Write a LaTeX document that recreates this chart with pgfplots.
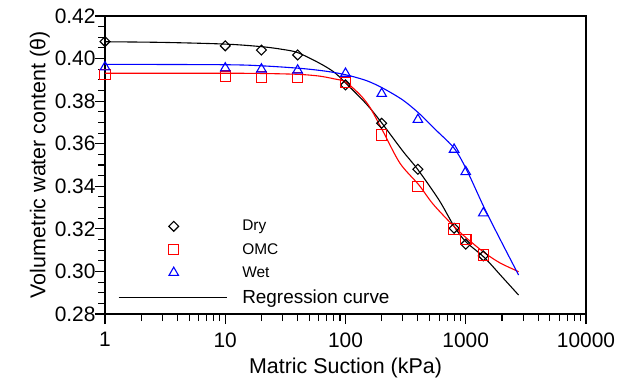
\documentclass[border=0pt]{standalone}
\usepackage{fontspec}
\setmainfont{Liberation Sans}
\usepackage{pgfplots}
\pgfplotsset{compat=1.18}
\definecolor{myblue}{RGB}{0,0,255}
\definecolor{myred}{RGB}{255,0,0}
\pgfplotsset{
  mylegmark/.style={legend image code/.code={\draw[mark repeat=2,mark phase=2,##1] plot coordinates {(0bp,0bp) (55bp,0bp) (110bp,0bp)};}},
  mylegline/.style={legend image code/.code={\draw[##1] (0bp,0bp) -- (108bp,0bp);}},
}
\begin{document}
\begin{tikzpicture}
\begin{axis}[
  scale only axis, width=481bp, height=298bp,
  xmode=log, xmin=1, xmax=10000,
  ymin=0.28, ymax=0.42,
  xtick={1,10,100,1000,10000}, xticklabels={1,10,100,1000,10000},
  ytick={0.28,0.30,0.32,0.34,0.36,0.38,0.40,0.42},
  yticklabels={0.28,0.30,0.32,0.34,0.36,0.38,0.40,0.42},
  minor ytick={0.285,0.29,0.295,0.305,0.31,0.315,0.325,0.33,0.335,0.345,0.35,0.355,0.365,0.37,0.375,0.385,0.39,0.395,0.405,0.41,0.415},
  xtick pos=bottom, ytick pos=left,
  tick align=outside,
  major tick length=10bp, minor tick length=7bp,
  axis line style={line width=1.4bp},
  tick style={line width=1.1bp, black},
  xlabel={Matric Suction (kPa)},
  ylabel={Volumetric water content (θ)},
  label style={font=\fontsize{21.5}{24}\selectfont},
  tick label style={font=\fontsize{21}{24}\selectfont},
  xticklabel style={yshift=-5bp},
  yticklabel style={xshift=4bp},
  xlabel style={yshift=-4bp},
  ylabel style={yshift=-2bp},
  legend style={draw=none, fill=none, at={(0.027,0.322)}, anchor=north west,
    inner sep=0pt, row sep=7bp, cells={anchor=west},
    /tikz/every odd column/.append style={column sep=13bp}},
  legend cell align=left,
]
% regression curves
\addplot[black, line width=1.1bp, smooth, forget plot] coordinates {
(1,0.4079) (3,0.4076) (10,0.4068) (20,0.4056) (30,0.4043) (40,0.4028) (60,0.3980) (80,0.3937) (100,0.3886) (150,0.3785) (200,0.3698) (300,0.3565) (400,0.3478) (600,0.3335) (800,0.3212) (1000,0.3140) (1430,0.3065) (2000,0.2975) (2750,0.2889)};
\addplot[myred, line width=1.1bp, smooth, forget plot] coordinates {
(1,0.3931) (10,0.3931) (20,0.3930) (40,0.3926) (60,0.3918) (80,0.3905) (100,0.3890) (132,0.3830) (160,0.3770) (206,0.3656) (284,0.3508) (408,0.3406) (537,0.3315) (803,0.3210) (1018,0.3156) (1430,0.3088) (1927,0.3040) (2750,0.2999)};
\addplot[myblue, line width=1.1bp, smooth, forget plot] coordinates {
(1,0.3973) (10,0.3971) (20,0.3966) (42,0.3954) (70,0.3940) (102,0.3923) (150,0.3896) (206,0.3860) (300,0.3805) (408,0.3743) (573,0.3661) (803,0.3578) (1018,0.3477) (1430,0.3297) (1927,0.3152) (2750,0.2983)};
% data
\addplot[black, only marks, mark=square, mark size=3.5bp, line width=1.1bp,
  every mark/.append style={rotate=45}, mylegmark]
coordinates {(1,0.408) (10,0.406) (20,0.404) (40,0.4017) (100,0.3876) (200,0.3696) (400,0.348) (800,0.3203) (1000,0.3128) (1400,0.3073)};
\addlegendentry{\fontsize{15.5}{18}\selectfont Dry}
\addplot[myred, only marks, mark=square, mark size=5.2bp, line width=1.1bp, mylegmark]
coordinates {(1,0.3924) (10,0.3917) (20,0.3914) (40,0.3911) (100,0.3888) (200,0.3641) (400,0.3398) (800,0.3200) (1000,0.3151) (1400,0.3077)};
\addlegendentry{\fontsize{15.5}{18}\selectfont OMC}
\addplot[myblue, only marks, mark=triangle, mark size=5.5bp, line width=1.1bp, mylegmark]
coordinates {(1,0.3960) (10,0.3955) (20,0.3950) (40,0.3945) (100,0.3930) (200,0.3835) (400,0.3713) (800,0.3573) (1000,0.3468) (1400,0.3274)};
\addlegendentry{\fontsize{15.5}{18}\selectfont Wet}
\addlegendimage{black, line width=1.1bp, mylegline}
\addlegendentry{\fontsize{19}{22}\selectfont Regression curve}
\end{axis}
\pgfresetboundingbox
\path ([shift={(-105bp,-69bp)}]current axis.south west) rectangle ([shift={(33bp,16bp)}]current axis.north east);
\end{tikzpicture}
\end{document}
